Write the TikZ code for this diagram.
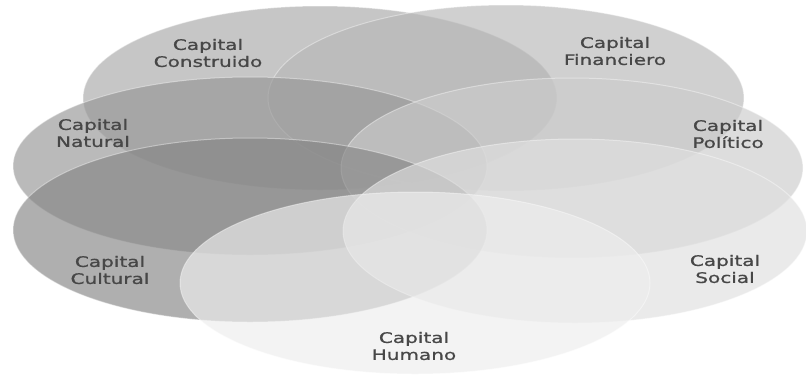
\documentclass[tikz,border=0pt]{standalone}
\usepackage{fontspec}
\newfontfamily\capfont[FakeStretch=1.38, FakeBold=0.9]{DejaVu Sans}
\usepackage{tikz}

\definecolor{construidogray}{gray}{0.66}
\definecolor{financierogray}{gray}{0.72}
\definecolor{naturalgray}{gray}{0.59}
\definecolor{politicogray}{gray}{0.80}
\definecolor{culturalgray}{gray}{0.52}
\definecolor{socialgray}{gray}{0.88}
\definecolor{humanogray}{gray}{0.935}

\begin{document}
\begin{tikzpicture}[
    x=1pt, y=-1pt,
    capital/.style={
        fill=#1, fill opacity=0.65,
        draw=white, draw opacity=0.4,
        line width=1pt
    },
    tag/.style={
        align=center,
        font=\capfont\fontsize{14.5}{17}\selectfont,
        text=black!72,
        inner sep=0pt
    }
]

\useasboundingbox (0,0) rectangle (806,376);
\fill[white] (0,0) rectangle (806,376);

% the seven capitals
\filldraw[capital=construidogray] (320,98) ellipse [x radius=237, y radius=92];
\filldraw[capital=financierogray] (506,98) ellipse [x radius=238, y radius=93];
\filldraw[capital=naturalgray] (250,166) ellipse [x radius=237, y radius=89];
\filldraw[capital=politicogray] (572,168) ellipse [x radius=231, y radius=90];
\filldraw[capital=culturalgray] (250,230) ellipse [x radius=237, y radius=92];
\filldraw[capital=socialgray] (575,231) ellipse [x radius=232, y radius=92];
\filldraw[capital=humanogray] (415,283) ellipse [x radius=235, y radius=91];

\node[tag] (construido) at (208,53) {Capital\\Construido};
\node[tag] (financiero) at (615,51) {Capital\\Financiero};
\node[tag] (natural)    at (93,133) {Capital\\Natural};
\node[tag] (politico)   at (728,134) {Capital\\Político};
\node[tag] (cultural)   at (110,270) {Capital\\Cultural};
\node[tag] (social)     at (725,269) {Capital\\Social};
\node[tag] (humano)     at (414,346) {Capital\\Humano};

\end{tikzpicture}
\end{document}
